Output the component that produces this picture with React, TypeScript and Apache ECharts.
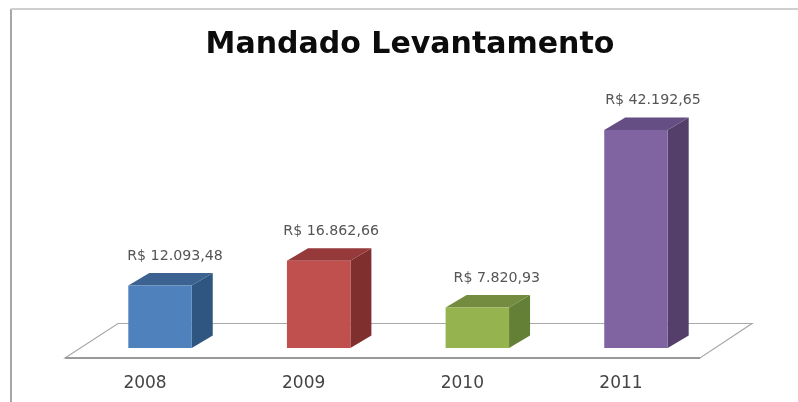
import React, { useEffect, useRef } from "react";
import * as echarts from "echarts";

const titleText = "Mandado Levantamento";
const years = ["2008", "2009", "2010", "2011"];
const values = [12093.48, 16862.66, 7820.93, 42192.65];
const valueLabels = ["R$ 12.093,48", "R$ 16.862,66", "R$ 7.820,93", "R$ 42.192,65"];
const frontColors = ["#4f81bd", "#c0504d", "#95b44f", "#8064a2"];
const topColors = ["#3b6291", "#95393a", "#748c3f", "#654e84"];
const sideColors = ["#2f5581", "#7f2f2e", "#647f36", "#543e6a"];
const labelShiftX = [15, 12.5, 19.5, 17];

const DEPTH_X = 21;
const DEPTH_Y = 12.5;
const FONT = "'DejaVu Sans', sans-serif";

function renderBar(params: any, api: any) {
  const i = api.value(0);
  const base = api.coord([i, 0]);
  const top = api.coord([i, api.value(1)]);
  const w = api.size([1, 0])[0] * 0.4;
  const l = base[0] - w / 2;
  const r = base[0] + w / 2;
  const y0 = base[1];
  const y1 = top[1];
  return {
    type: "group",
    children: [
      {
        type: "polygon",
        shape: { points: [[r, y0], [r + DEPTH_X, y0 - DEPTH_Y], [r + DEPTH_X, y1 - DEPTH_Y], [r, y1]] },
        style: { fill: sideColors[i] },
      },
      {
        type: "polygon",
        shape: { points: [[l, y1], [l + DEPTH_X, y1 - DEPTH_Y], [r + DEPTH_X, y1 - DEPTH_Y], [r, y1]] },
        style: { fill: topColors[i] },
      },
      {
        type: "rect",
        shape: { x: l, y: y1, width: w, height: y0 - y1 },
        style: { fill: frontColors[i] },
      },
      {
        type: "text",
        style: {
          x: base[0] + labelShiftX[i],
          y: y1 - 31,
          text: valueLabels[i],
          fill: "#555555",
          font: `14.2px ${FONT}`,
          align: "center",
          verticalAlign: "middle",
        },
      },
    ],
  };
}

export default function App() {
  const ref = useRef<HTMLDivElement>(null);
  useEffect(() => {
    const chart = echarts.init(ref.current!, undefined, { renderer: "svg" });
    chart.setOption({
      animation: false,
      backgroundColor: "#ffffff",
      title: {
        text: titleText,
        left: 405,
        top: 37,
        textAlign: "center",
        textVerticalAlign: "middle",
        textStyle: { fontFamily: FONT, fontWeight: "bold", fontSize: 30, color: "#0c0c0c" },
      },
      grid: { left: 80.7, right: 82.7, top: 89.6, bottom: 54 },
      xAxis: {
        type: "category",
        data: years,
        axisLine: { show: false },
        axisTick: { show: false },
        axisLabel: {
          fontFamily: FONT,
          fontSize: 17,
          color: "#444444",
          margin: 25,
          padding: [0, 30, 0, 0],
        },
      },
      yAxis: { type: "value", min: 0, max: 50000, show: false },
      graphic: [
        { type: "line", shape: { x1: 11, y1: 9, x2: 11, y2: 402 }, style: { stroke: "#a6a6a6", lineWidth: 2 } },
        { type: "line", shape: { x1: 11, y1: 9, x2: 798, y2: 9 }, style: { stroke: "#cfcfcf", lineWidth: 2 } },
        {
          type: "polygon",
          z: -1,
          shape: { points: [[65, 358], [118, 323.5], [752, 323.5], [700, 358]] },
          style: { fill: "#ffffff", stroke: "#a8a8a8", lineWidth: 1.2 },
        },
        { type: "line", z: -1, shape: { x1: 65, y1: 358, x2: 700, y2: 358 }, style: { stroke: "#999999", lineWidth: 2 } },
      ],
      series: [
        {
          type: "custom",
          renderItem: renderBar,
          data: values.map((v, i) => [i, v]),
          encode: { x: 0, y: 1 },
          clip: false,
        },
      ],
    });
    return () => chart.dispose();
  }, []);
  return (
    <div
      ref={ref}
      style={{ position: "fixed", left: 0, top: 0, width: 798, height: 402, filter: "blur(0.6px)" }}
    />
  );
}
